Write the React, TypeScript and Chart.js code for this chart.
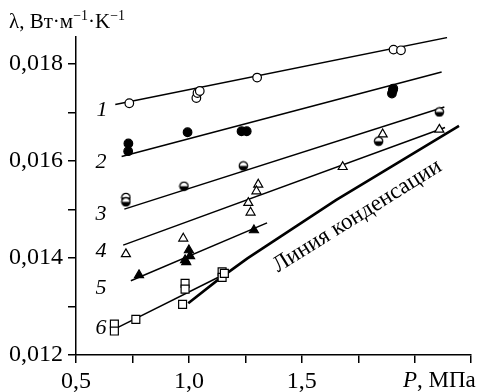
import React, { useEffect, useRef } from "react";
import { Chart, registerables } from "chart.js";
Chart.register(...registerables);

// ---- axes ----
const xTicks = [0.5, 0.75, 1.0, 1.25, 1.5, 1.75, 2.0, 2.25];
const xTickLabels = ["0,5", "", "1,0", "", "1,5", "", "", ""];
const yTicks = [0.012, 0.013, 0.014, 0.015, 0.016, 0.017, 0.018];
const yTickLabels = ["0,012", "", "0,014", "", "0,016", "", "0,018"];
const xMin = 0.5, xMax = 2.25, yMin = 0.012, yMax = 0.01855;

// ---- series 1 (open circles) ----
const s1P = [0.736, 1.033, 1.038, 1.048, 1.302, 1.906, 1.939];
const s1L = [0.017185, 0.017294, 0.017397, 0.017438, 0.017714, 0.01829, 0.018276];
const fit1P = [0.674, 2.143];
const fit1L = [0.017158, 0.018537];
// ---- series 2 (filled circles) ----
const s2P = [0.732, 0.731, 0.994, 1.233, 1.256, 1.903, 1.899, 1.905];
const s2L = [0.016356, 0.016198, 0.016588, 0.016609, 0.016609, 0.017453, 0.017385, 0.017488];
const fit2P = [0.702, 2.119];
const fit2L = [0.016088, 0.017829];
// ---- series 3 (half-filled circles) ----
const s3P = [0.721, 0.721, 0.978, 1.241, 1.84, 2.109];
const s3L = [0.015245, 0.015154, 0.015477, 0.015895, 0.016403, 0.017006];
const fit3P = [0.714, 2.131];
const fit3L = [0.015004, 0.017109];
// ---- series 4 (open triangles) ----
const s4P = [0.721, 0.975, 1.307, 1.299, 1.263, 1.273, 1.681, 1.858, 2.109];
const s4L = [0.014078, 0.014401, 0.015512, 0.015374, 0.015134, 0.014936, 0.015874, 0.016547, 0.016644];
const fit4P = [0.709, 2.134];
const fit4L = [0.014263, 0.016685];
// ---- series 5 (filled triangles) ----
const s5P = [0.779, 0.983, 1.0, 1.005, 0.988, 1.288];
const s5L = [0.013646, 0.013955, 0.01416, 0.014037, 0.013914, 0.014572];
const fit5P = [0.743, 1.346];
const fit5L = [0.013529, 0.014722];
// ---- series 6 (open squares) ----
const s6P = [0.67, 0.67, 0.765, 0.983, 0.983, 0.972, 1.147, 1.147, 1.157];
const s6L = [0.012638, 0.012494, 0.012735, 0.013475, 0.013358, 0.013043, 0.013714, 0.013599, 0.013681];
const fit6P = [0.677, 1.135];
const fit6L = [0.012549, 0.013611];
// ---- condensation line ----
const condP = [0.997, 1.137, 1.259, 1.651, 2.196];
const condL = [0.013064, 0.013578, 0.01399, 0.015189, 0.016718];

// ---- curve numbers ----
const curveNames = ["1", "2", "3", "4", "5", "6"];
const curveNameP = [0.6156, 0.6105, 0.6105, 0.6105, 0.6105, 0.6105];
const curveNameL = [0.017062, 0.015996, 0.014916, 0.01416, 0.013405, 0.012582];
const condLabel = "Линия конденсации";
const condLabelPos = [1.745, 0.014860];

const SERIF = "'Liberation Serif', 'Times New Roman', 'DejaVu Serif', serif";

const pts = (xs: number[], ys: number[]) => xs.map((x, i) => ({ x, y: ys[i] }));

export default function App() {
  const ref = useRef<HTMLCanvasElement | null>(null);
  useEffect(() => {
    document.body.style.margin = "0";
    const canvas = ref.current!;
    // half-filled circle marker
    const half = document.createElement("canvas");
    half.width = 11;
    half.height = 11;
    const hc = half.getContext("2d")!;
    hc.beginPath();
    hc.arc(5.5, 5.5, 4.2, 0, Math.PI * 2);
    hc.fillStyle = "#fff";
    hc.fill();
    hc.beginPath();
    hc.arc(5.5, 5.5, 4.2, 0, Math.PI);
    hc.closePath();
    hc.fillStyle = "#000";
    hc.fill();
    hc.beginPath();
    hc.arc(5.5, 5.5, 4.2, 0, Math.PI * 2);
    hc.lineWidth = 1.2;
    hc.strokeStyle = "#000";
    hc.stroke();

    const textPlugin = {
      id: "texts",
      afterDraw(chart: any) {
        const ctx = chart.ctx as CanvasRenderingContext2D;
        const xs = chart.scales.x;
        const ys = chart.scales.y;
        ctx.save();
        ctx.fillStyle = "#000";
        // y title
        ctx.textBaseline = "alphabetic";
        ctx.textAlign = "left";
        let x = 9;
        const by = 28;
        const part = (t: string, size: number, dy: number, italic = false) => {
          ctx.font = `${italic ? "italic " : ""}${size}px ${SERIF}`;
          ctx.fillText(t, x, by + dy);
          x += ctx.measureText(t).width;
        };
        part("λ, Вт·м", 21, 0);
        part("−1", 14, -8);
        part("·K", 21, 0);
        part("−1", 14, -8);
        // x title
        x = 403;
        const bx = 387;
        ctx.font = `italic 23px ${SERIF}`;
        ctx.fillText("P", x, bx);
        x += ctx.measureText("P").width;
        ctx.font = `23px ${SERIF}`;
        ctx.fillText(", МПа", x, bx);
        // curve numbers
        ctx.font = `italic 22px ${SERIF}`;
        ctx.textAlign = "center";
        ctx.textBaseline = "middle";
        curveNames.forEach((n, i) => {
          ctx.fillText(n, xs.getPixelForValue(curveNameP[i]), ys.getPixelForValue(curveNameL[i]) + 1);
        });
        // condensation label
        ctx.translate(xs.getPixelForValue(condLabelPos[0]), ys.getPixelForValue(condLabelPos[1]));
        ctx.rotate((-32 * Math.PI) / 180);
        ctx.font = `23px ${SERIF}`;
        ctx.fillText(condLabel, 0, 0);
        ctx.restore();
      },
    };

    const fitDs = (xs: number[], ys: number[], w = 1.5) => ({
      type: "scatter",
      data: pts(xs, ys),
      showLine: true,
      borderColor: "#000",
      borderWidth: w,
      pointRadius: 0,
      order: 2,
    });
    const ptDs = (xs: number[], ys: number[], style: any, fill: string, r: number) => ({
      type: "scatter",
      data: pts(xs, ys),
      showLine: false,
      pointStyle: style,
      pointRadius: r,
      pointBackgroundColor: fill,
      pointBorderColor: "#000",
      pointBorderWidth: 1.2,
      order: 1,
    });

    const tickAxis = (vals: number[], labels: string[], axis: string) => ({
      type: "linear",
      min: axis === "x" ? xMin : yMin,
      max: axis === "x" ? xMax : yMax,
      afterBuildTicks: (s: any) => {
        s.ticks = vals.map((v) => ({ value: v }));
      },
      afterFit: (s: any) => {
        if (axis === "x") s.height = 37;
        else s.width = 76;
      },
      border: { display: true, color: "#000", width: 1.5 },
      grid: {
        display: true,
        drawOnChartArea: false,
        drawTicks: true,
        tickLength: 8,
        color: "#000",
        lineWidth: 1.5,
      },
      ticks: {
        autoSkip: false,
        maxRotation: 0,
        minRotation: 0,
        padding: axis === "x" ? 4 : 5,
        color: "#000",
        font: { family: SERIF, size: 24 },
        callback: (v: any) => {
          const i = vals.findIndex((t) => Math.abs(t - Number(v)) < 1e-9);
          return i >= 0 ? labels[i] : "";
        },
      },
    });

    const chart = new Chart(canvas, {
      type: "scatter",
      data: {
        datasets: [
          ptDs(s1P, s1L, "circle", "#fff", 4.3),
          ptDs(s2P, s2L, "circle", "#000", 4.3),
          ptDs(s3P, s3L, half, "#fff", 5),
          ptDs(s4P, s4L, "triangle", "#fff", 5.2),
          ptDs(s5P, s5L, "triangle", "#000", 5.2),
          ptDs(s6P, s6L, "rect", "#fff", 5.6),
          fitDs(fit1P, fit1L),
          fitDs(fit2P, fit2L),
          fitDs(fit3P, fit3L),
          fitDs(fit4P, fit4L),
          fitDs(fit5P, fit5L),
          fitDs(fit6P, fit6L),
          fitDs(condP, condL, 2.6),
        ] as any,
      },
      options: {
        responsive: false,
        maintainAspectRatio: false,
        devicePixelRatio: 1,
        animation: false,
        layout: { padding: { top: 37, right: 1, left: 0, bottom: 0 } },
        plugins: { legend: { display: false }, tooltip: { enabled: false } },
        scales: {
          x: tickAxis(xTicks, xTickLabels, "x") as any,
          y: tickAxis(yTicks, yTickLabels, "y") as any,
        },
      },
      plugins: [textPlugin],
    });
    return () => chart.destroy();
  }, []);
  return <canvas ref={ref} width={478} height={392} style={{ display: "block" }} />;
}
